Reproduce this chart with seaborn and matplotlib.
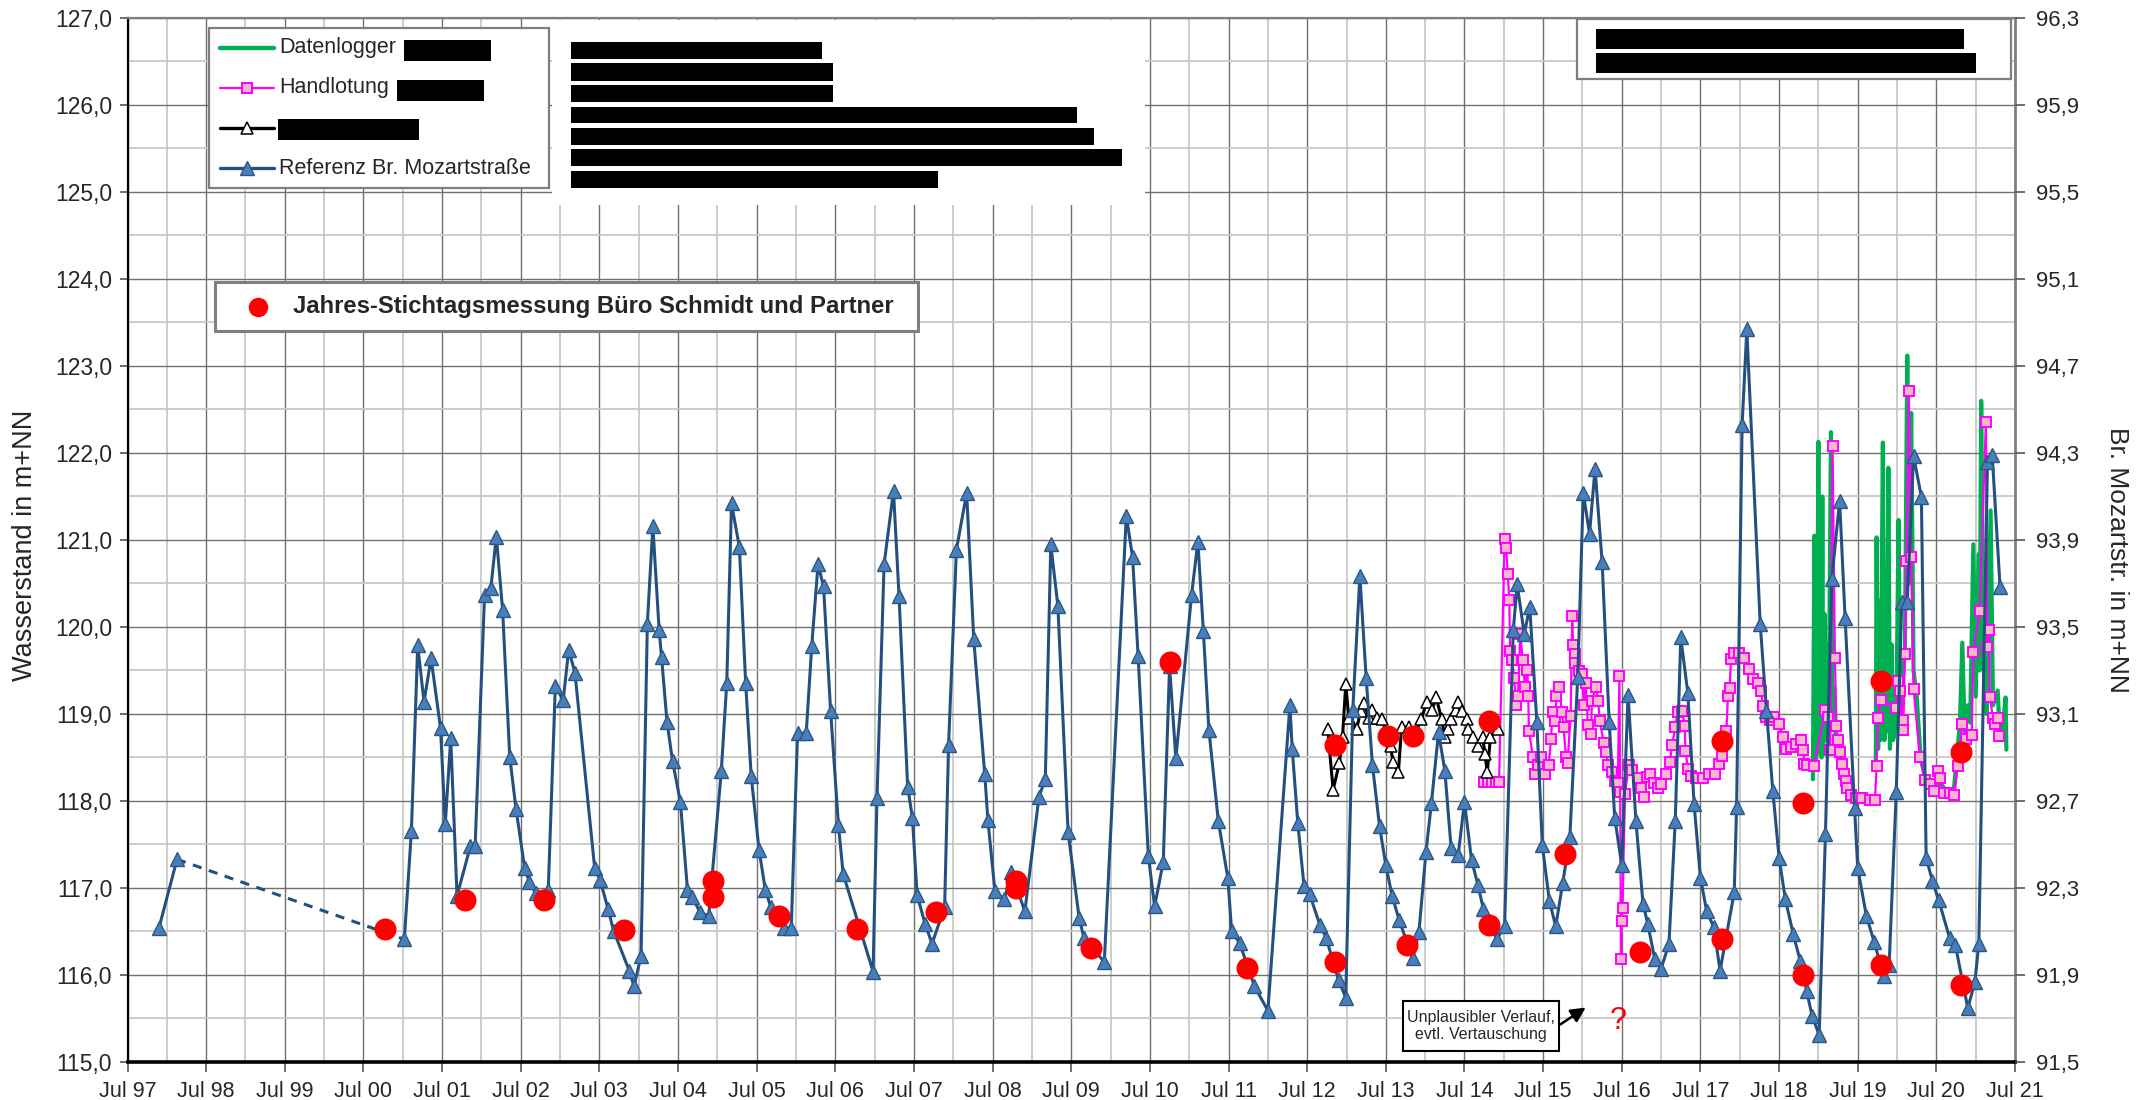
import numpy as np
import pandas as pd
import matplotlib
matplotlib.use("Agg")
import matplotlib.pyplot as plt
from matplotlib.patches import Rectangle
from matplotlib.lines import Line2D
from matplotlib.ticker import FixedLocator, FuncFormatter
import seaborn as sns

# ---------------- data (decimal years, m+NN on left scale) ----------------
ref_start_t = [1997.90, 1998.13]
ref_start_v = [116.54, 117.33]
ref_gap_t = [1998.13, 2001.02]
ref_gap_v = [117.33, 116.41]

ref_t = [2001.02, 2001.11, 2001.19, 2001.27, 2001.36, 2001.48, 2001.54, 2001.61, 2001.69, 2001.86,
         2001.92, 2002.04, 2002.12, 2002.19, 2002.27, 2002.36, 2002.44, 2002.55, 2002.61, 2002.69,
         2002.85, 2002.94, 2003.04, 2003.11, 2003.19, 2003.44, 2003.51, 2003.61, 2003.68, 2003.88,
         2003.94, 2004.03, 2004.11, 2004.18, 2004.26, 2004.29, 2004.36, 2004.43, 2004.53, 2004.62,
         2004.68, 2004.78, 2004.89, 2005.05, 2005.12, 2005.18, 2005.28, 2005.36, 2005.43, 2005.53,
         2005.61, 2005.68, 2005.85, 2005.94, 2006.02, 2006.13, 2006.20, 2006.28, 2006.35, 2006.44,
         2006.54, 2006.60, 2006.98, 2007.03, 2007.12, 2007.24, 2007.31, 2007.42, 2007.48, 2007.54,
         2007.64, 2007.73, 2007.89, 2007.94, 2008.04, 2008.17, 2008.26, 2008.40, 2008.44, 2008.53,
         2008.65, 2008.74, 2008.91, 2009.09, 2009.17, 2009.24, 2009.33, 2009.46, 2009.60, 2009.66,
         2009.92, 2010.20, 2010.28, 2010.35, 2010.48, 2010.56, 2010.67, 2010.75, 2010.83, 2011.03,
         2011.11, 2011.18, 2011.25, 2011.37, 2011.49, 2011.54, 2011.64, 2011.83, 2012.00, 2012.28,
         2012.31, 2012.38, 2012.46, 2012.53, 2012.66, 2012.74, 2012.90, 2012.99, 2013.08, 2013.17,
         2013.25, 2013.33, 2013.42, 2013.50, 2013.58, 2013.67, 2013.84, 2013.92, 2014.01, 2014.08,
         2014.17, 2014.25, 2014.33, 2014.42, 2014.50, 2014.59, 2014.67, 2014.74, 2014.91, 2015.01,
         2015.12, 2015.17, 2015.26, 2015.33, 2015.42, 2015.49, 2015.58, 2015.66, 2015.75, 2015.84,
         2015.94, 2016.01, 2016.09, 2016.16, 2016.25, 2016.34, 2016.41, 2016.50, 2016.58, 2016.68,
         2016.77, 2016.83, 2016.92, 2017.00, 2017.10, 2017.18, 2017.25, 2017.34, 2017.42, 2017.50,
         2017.58, 2017.67, 2017.75, 2017.93, 2017.96, 2018.03, 2018.09, 2018.26, 2018.34, 2018.42,
         2018.50, 2018.58, 2018.68, 2018.77, 2018.85, 2018.92, 2019.01, 2019.09, 2019.17, 2019.27,
         2019.34, 2019.46, 2019.50, 2019.61, 2019.71, 2019.83, 2019.90, 2019.99, 2020.06, 2020.13,
         2020.21, 2020.31, 2020.37, 2020.45, 2020.53, 2020.67, 2020.74, 2020.90, 2020.99, 2021.04,
         2021.15, 2021.21, 2021.31]
ref_v = [116.41, 117.66, 119.79, 119.14, 119.64, 118.84, 117.73, 118.72, 116.91, 117.48,
         117.48, 120.37, 120.45, 121.04, 120.19, 118.51, 117.91, 117.23, 117.07, 116.94,
         116.98, 119.32, 119.16, 119.74, 119.47, 117.23, 117.09, 116.76, 116.51, 116.05,
         115.87, 116.22, 120.04, 121.16, 119.96, 119.66, 118.91, 118.46, 117.99, 116.98,
         116.90, 116.72, 116.68, 118.34, 119.36, 121.42, 120.92, 119.36, 118.29, 117.44,
         116.98, 116.78, 116.54, 116.54, 118.78, 118.78, 119.78, 120.72, 120.47, 119.04,
         117.72, 117.16, 116.04, 118.04, 120.72, 121.56, 120.36, 118.16, 117.81, 116.92,
         116.59, 116.36, 116.78, 118.64, 120.89, 121.54, 119.86, 118.31, 117.78, 116.96,
         116.87, 117.18, 116.73, 118.05, 118.25, 120.95, 120.24, 117.64, 116.66, 116.43,
         116.15, 121.28, 120.80, 119.67, 117.37, 116.79, 117.30, 119.55, 118.49, 120.37,
         120.98, 119.95, 118.82, 117.77, 117.12, 116.50, 116.37, 115.87, 115.59, 119.10,
         118.60, 117.75, 117.02, 116.93, 116.58, 116.43, 115.94, 115.74, 119.05, 120.59,
         119.41, 118.41, 117.71, 117.26, 116.91, 116.63, 116.19, 116.49, 117.41, 117.98,
         118.79, 118.35, 117.46, 117.38, 117.99, 117.32, 117.04, 116.76, 116.41, 116.56,
         119.96, 120.49, 119.92, 120.23, 118.91, 117.49, 116.85, 116.56, 117.06, 117.59,
         119.42, 121.54, 121.07, 121.82, 120.75, 118.91, 117.81, 117.26, 119.22, 117.77,
         116.82, 116.59, 116.18, 116.07, 116.36, 117.77, 119.88, 119.24, 117.96, 117.12,
         116.73, 116.55, 116.05, 116.95, 117.93, 122.32, 123.42, 120.04, 119.04, 118.12,
         117.35, 116.87, 116.47, 116.16, 115.82, 115.53, 115.31, 117.62, 120.55, 121.45,
         120.10, 117.92, 117.23, 116.68, 116.38, 115.99, 116.12, 118.10, 120.29, 120.29,
         121.97, 121.49, 117.35, 117.08, 116.86, 116.42, 116.35, 115.62, 115.92, 116.36,
         121.90, 121.98, 120.46]

blk_t = [2012.76, 2012.83, 2012.91, 2012.95, 2012.99, 2013.03, 2013.13, 2013.18, 2013.22, 2013.29,
         2013.33, 2013.39, 2013.45, 2013.56, 2013.59, 2013.66, 2013.70, 2013.79, 2013.86, 2013.95,
         2014.02, 2014.09, 2014.14, 2014.21, 2014.25, 2014.29, 2014.33, 2014.39, 2014.42, 2014.47,
         2014.53, 2014.55, 2014.61, 2014.67, 2014.73, 2014.76, 2014.79, 2014.83, 2014.93]
blk_v = [118.83, 118.13, 118.44, 118.74, 119.34, 118.95, 118.83, 119.04, 119.13, 118.95,
         119.05, 118.95, 118.94, 118.63, 118.45, 118.33, 118.85, 118.85, 118.75, 118.94,
         119.14, 119.05, 119.19, 118.94, 118.74, 118.83, 118.94, 119.05, 119.14, 119.04,
         118.94, 118.83, 118.73, 118.63, 118.74, 118.54, 118.33, 118.73, 118.83]

hand_t = [2014.75, 2014.80, 2014.85, 2014.90, 2014.94, 2015.01, 2015.03, 2015.05, 2015.07, 2015.08,
          2015.11, 2015.13, 2015.16, 2015.18, 2015.21, 2015.24, 2015.27, 2015.30, 2015.31, 2015.32,
          2015.37, 2015.40, 2015.44, 2015.47, 2015.53, 2015.57, 2015.60, 2015.62, 2015.65, 2015.67,
          2015.70, 2015.74, 2015.76, 2015.79, 2015.81, 2015.85, 2015.87, 2015.88, 2015.90, 2015.91,
          2015.95, 2015.99, 2016.02, 2016.04, 2016.07, 2016.11, 2016.12, 2016.17, 2016.20, 2016.22,
          2016.27, 2016.30, 2016.33, 2016.37, 2016.41, 2016.45, 2016.47, 2016.48, 2016.49, 2016.50,
          2016.51, 2016.54, 2016.59, 2016.63, 2016.70, 2016.74, 2016.78, 2016.82, 2016.86, 2016.91,
          2016.96, 2017.00, 2017.06, 2017.11, 2017.14, 2017.18, 2017.21, 2017.27, 2017.30, 2017.31,
          2017.34, 2017.38, 2017.44, 2017.53, 2017.61, 2017.69, 2017.74, 2017.78, 2017.83, 2017.85,
          2017.87, 2017.89, 2017.93, 2017.99, 2018.06, 2018.12, 2018.17, 2018.23, 2018.27, 2018.30,
          2018.33, 2018.38, 2018.44, 2018.50, 2018.55, 2018.59, 2018.65, 2018.71, 2018.78, 2018.81,
          2018.82, 2018.86, 2018.94, 2019.09, 2019.12, 2019.15, 2019.18, 2019.21, 2019.23, 2019.25,
          2019.28, 2019.30, 2019.33, 2019.35, 2019.37, 2019.42, 2019.48, 2019.56, 2019.65, 2019.72,
          2019.74, 2019.76, 2019.79, 2019.99, 2020.01, 2020.04, 2020.07, 2020.08, 2020.10, 2020.12,
          2020.15, 2020.18, 2020.21, 2020.29, 2020.36, 2020.42, 2020.47, 2020.52, 2020.54, 2020.60,
          2020.67, 2020.73, 2020.77, 2020.83, 2020.88, 2020.95, 2020.97, 2021.05, 2021.13, 2021.15,
          2021.17, 2021.18, 2021.22, 2021.25, 2021.28, 2021.30]
hand_v = [118.22, 118.22, 118.22, 118.22, 118.22, 121.01, 120.91, 120.61, 120.31, 119.72,
          119.62, 119.41, 119.10, 119.21, 119.92, 119.62, 119.31, 119.51, 119.21, 118.81,
          118.51, 118.31, 118.41, 118.51, 118.31, 118.41, 118.71, 119.02, 118.92, 119.21,
          119.31, 119.02, 118.85, 118.51, 118.44, 118.98, 120.13, 119.79, 119.69, 119.59,
          119.49, 119.46, 119.10, 119.36, 118.87, 118.77, 119.15, 119.31, 119.15, 118.92,
          118.67, 118.56, 118.41, 118.33, 118.23, 118.21, 119.44, 118.10, 116.18, 116.62,
          116.77, 118.08, 118.41, 118.36, 118.27, 118.15, 118.05, 118.28, 118.31, 118.21,
          118.15, 118.20, 118.31, 118.45, 118.64, 118.85, 119.02, 119.04, 118.86, 118.58,
          118.37, 118.29, 118.26, 118.27, 118.31, 118.31, 118.42, 118.52, 118.80, 119.21,
          119.30, 119.63, 119.70, 119.70, 119.64, 119.52, 119.40, 119.36, 119.26, 119.09,
          118.97, 118.93, 118.96, 118.89, 118.74, 118.60, 118.62, 118.66, 118.70, 118.59,
          118.42, 118.41, 118.40, 119.05, 118.97, 118.59, 122.08, 119.64, 118.86, 118.70,
          118.56, 118.42, 118.31, 118.23, 118.15, 118.07, 118.04, 118.03, 118.01, 118.01,
          118.40, 118.95, 119.16, 119.07, 119.38, 119.27, 118.93, 118.82, 119.69, 120.76,
          122.71, 120.80, 119.29, 118.51, 118.24, 118.20, 118.12, 118.34, 118.26, 118.09,
          118.09, 118.07, 118.40, 118.89, 118.71, 118.76, 119.71, 120.18, 122.36, 119.77,
          119.97, 119.20, 118.95, 118.89, 118.95, 118.75]

log_t = [2018.93, 2018.95, 2018.96, 2018.98, 2019.00, 2019.01, 2019.02, 2019.04, 2019.05, 2019.06,
         2019.08, 2019.09, 2019.11, 2019.13, 2019.16, 2019.18, 2019.20, 2019.22, np.nan,
         2019.73, 2019.74, 2019.76, 2019.77, 2019.79, 2019.82, 2019.84, 2019.85, 2019.87, 2019.89,
         2019.91, 2019.93, 2019.95, 2019.99, 2020.02, 2020.04, 2020.06, 2020.10, 2020.13, 2020.15,
         2020.18, 2020.21, 2020.25, 2020.30, 2020.36, 2020.45, 2020.55, 2020.65, 2020.72, 2020.77,
         2020.80, 2020.83, 2020.86, 2020.90, 2020.93, 2020.97, 2021.00, 2021.04, 2021.05, 2021.07,
         2021.10, 2021.14, 2021.19, 2021.22, 2021.28, 2021.31, 2021.35, 2021.38, 2021.39]
log_v = [118.25, 121.05, 118.40, 118.60, 122.13, 118.55, 121.20, 118.50, 121.50, 118.60,
         120.15, 118.70, 119.80, 118.80, 122.24, 118.90, 119.30, 118.70, np.nan,
         118.40, 121.03, 118.60, 120.30, 118.70, 122.12, 118.70, 120.00, 118.80, 121.83,
         118.60, 119.80, 118.70, 118.90, 121.23, 119.00, 119.30, 119.70, 123.12, 120.50,
         122.46, 119.50, 119.20, 118.50, 118.25, 118.15, 118.20, 118.10, 118.10, 118.60,
         118.90, 119.82, 118.80, 119.10, 118.90, 120.95, 119.20, 120.84, 119.50, 122.60,
         119.60, 119.00, 121.34, 119.10, 119.27, 118.70, 118.90, 119.19, 118.59]

dot_t = [2000.78, 2001.79, 2002.80, 2003.81, 2004.94, 2004.94, 2005.78, 2006.77, 2007.78, 2008.80,
         2008.80, 2009.75, 2010.75, 2011.73, 2012.85, 2012.85, 2013.53, 2013.84, 2013.77, 2014.81,
         2014.81, 2015.78, 2016.73, 2017.77, 2017.77, 2018.81, 2018.81, 2019.80, 2019.80, 2020.81,
         2020.81]
dot_v = [116.53, 116.86, 116.86, 116.52, 117.08, 116.90, 116.68, 116.53, 116.72, 117.08,
         117.00, 116.31, 119.60, 116.08, 118.64, 116.15, 118.75, 118.75, 116.35, 118.92,
         116.57, 117.39, 116.27, 118.69, 116.41, 117.98, 116.00, 119.38, 116.12, 118.56,
         115.88]

x_tick_labels = ["Jul %02d" % (y % 100) for y in range(1997, 2022)]
left_ticks = list(range(115, 128))
right_ticks = [91.5, 91.9, 92.3, 92.7, 93.1, 93.5, 93.9, 94.3, 94.7, 95.1, 95.5, 95.9, 96.3]

# ---------------- style ----------------
sns.set_theme(style="white")
plt.rcParams['font.family'] = ['Liberation Sans', 'DejaVu Sans']

W, H = 2149, 1100
fig = plt.figure(figsize=(W / 100, H / 100), dpi=100)
fig.patch.set_facecolor("white")
ax = fig.add_axes([127.5 / W, 1 - 1062 / H, (2015 - 127.5) / W, (1062 - 18) / H])
ax.set_facecolor("white")

BLUE_LINE = "#24507f"
BLUE_FACE = "#4a7ebb"
BLUE_EDGE = "#2a5885"

df_ref = pd.DataFrame({"t": ref_t, "v": ref_v})
df_ref0 = pd.DataFrame({"t": ref_start_t, "v": ref_start_v})
df_gap = pd.DataFrame({"t": ref_gap_t, "v": ref_gap_v})
df_blk = pd.DataFrame({"t": blk_t, "v": blk_v})
df_hand = pd.DataFrame({"t": hand_t, "v": hand_v})
df_log = pd.DataFrame({"t": log_t, "v": log_v})
df_dot = pd.DataFrame({"t": dot_t, "v": dot_v})

# logger (green) - plotted directly to keep the gap
ax.plot(df_log["t"], df_log["v"], color="#00b050", lw=3.0, zorder=3)

sns.lineplot(data=df_hand, x="t", y="v", ax=ax, sort=False, estimator=None, color="#ff00ff",
             lw=1.6, marker="s", markersize=7, markerfacecolor="#f9b8c8",
             markeredgecolor="#ff00ff", markeredgewidth=1.4, zorder=4)
sns.lineplot(data=df_blk, x="t", y="v", ax=ax, sort=False, estimator=None, color="black",
             lw=2.2, marker="^", markersize=8, markerfacecolor="white",
             markeredgecolor="black", markeredgewidth=1.1, zorder=5)
sns.lineplot(data=df_gap, x="t", y="v", ax=ax, sort=False, estimator=None, color=BLUE_LINE,
             lw=2.2, linestyle=(0, (3, 2.5)), zorder=6)
for d in (df_ref0, df_ref):
    sns.lineplot(data=d, x="t", y="v", ax=ax, sort=False, estimator=None, color=BLUE_LINE,
                 lw=2.2, marker="^", markersize=9.5, markerfacecolor=BLUE_FACE,
                 markeredgecolor=BLUE_EDGE, markeredgewidth=1.0, zorder=6)
sns.scatterplot(data=df_dot, x="t", y="v", ax=ax, color="#ff0000", edgecolor="#ff0000",
                s=215, zorder=8, legend=False)

# ---------------- axes ----------------
ax.set_xlim(1997.5, 2021.5)
ax.set_ylim(115, 127)
ax.xaxis.set_major_locator(FixedLocator([y + 0.5 for y in range(1997, 2022)]))
ax.xaxis.set_minor_locator(FixedLocator([float(y) for y in range(1998, 2022)]))
ax.set_xticklabels(x_tick_labels)
ax.yaxis.set_major_locator(FixedLocator(left_ticks))
ax.yaxis.set_minor_locator(FixedLocator([v + 0.5 for v in range(115, 127)]))
ax.yaxis.set_major_formatter(FuncFormatter(lambda v, p: ("%.1f" % v).replace(".", ",")))
ax.grid(True, which="major", color="#707070", lw=1.0, zorder=0)
ax.grid(True, which="minor", color="#c8c8c8", lw=1.3, zorder=0)
ax.set_axisbelow(True)
ax.tick_params(axis="x", which="major", direction="out", length=7, width=1.2, color="#555555",
               labelsize=15.5, pad=7, bottom=True)
ax.tick_params(axis="y", which="major", direction="out", length=6, width=1.2, color="#555555",
               labelsize=16.5, pad=5, left=True)
ax.tick_params(which="minor", length=0)
ax.set_xlabel("")
ax.set_ylabel("")
ax.spines["left"].set_color("black"); ax.spines["left"].set_linewidth(1.6)
ax.spines["bottom"].set_color("black"); ax.spines["bottom"].set_linewidth(2.6)
ax.spines["top"].set_color("#808080"); ax.spines["top"].set_linewidth(1.6)
ax.spines["right"].set_color("#808080"); ax.spines["right"].set_linewidth(2.0)

ax2 = ax.twinx()
ax2.set_ylim(91.5, 96.3)
ax2.yaxis.set_major_locator(FixedLocator(right_ticks))
ax2.yaxis.set_major_formatter(FuncFormatter(lambda v, p: ("%.1f" % v).replace(".", ",")))
ax2.tick_params(axis="y", direction="out", length=7, width=1.2, color="#555555", labelsize=16,
                pad=8)
ax2.grid(False)
for s in ax2.spines.values():
    s.set_visible(False)

fig.text(25 / W, 1 - 545 / H, "Wasserstand in m+NN", rotation=90, ha="center", va="center",
         fontsize=19.5)
fig.text(2117 / W, 1 - 560 / H, "Br. Mozartstr. in m+NN", rotation=270, ha="center", va="center",
         fontsize=19)

# ---------------- overlays (pixel helpers) ----------------
def fx(x):
    return x / W

def fy(y):
    return 1 - y / H

def rect(x0, y0, x1, y1, fc="white", ec="none", lw=0, z=20):
    fig.add_artist(Rectangle((fx(x0), fy(y1)), (x1 - x0) / W, (y1 - y0) / H,
                             transform=fig.transFigure, facecolor=fc, edgecolor=ec, lw=lw, zorder=z))

# white text area with redacted lines
rect(552, 20, 1145, 205, fc="white", z=15)
bars_end = [822, 833, 833, 1077, 1094, 1122, 938]
bars_y = [(42, 59), (63, 81), (85, 102), (107, 123), (128, 145), (149, 166), (171, 188)]
for xe, (y0, y1) in zip(bars_end, bars_y):
    rect(571, y0, xe, y1, fc="black", z=21)

# legend 1
rect(209, 28, 549, 188, fc="white", ec="#7f7f7f", lw=1.6, z=20)
rows = [48, 88, 128, 168]
styles = [dict(color="#00b050", lw=3.2),
          dict(color="#ff00ff", lw=1.6, marker="s", markersize=7, markerfacecolor="#f9b8c8",
               markeredgecolor="#ff00ff", markeredgewidth=1.4),
          dict(color="black", lw=2.4, marker="^", markersize=8, markerfacecolor="white",
               markeredgecolor="black", markeredgewidth=1.1),
          dict(color=BLUE_LINE, lw=2.4, marker="^", markersize=9.5, markerfacecolor=BLUE_FACE,
               markeredgecolor=BLUE_EDGE, markeredgewidth=1.0)]
labels = ["Datenlogger", "Handlotung", "", "Referenz Br. Mozartstraße"]
for ry, st, lab in zip(rows, styles, labels):
    fig.add_artist(Line2D([fx(220), fx(274)], [fy(ry), fy(ry)], transform=fig.transFigure,
                          zorder=22, **{k: v for k, v in st.items() if not k.startswith("marker")}))
    if "marker" in st:
        fig.add_artist(Line2D([fx(247)], [fy(ry)], transform=fig.transFigure, zorder=23,
                              linestyle="none", **{k: v for k, v in st.items() if k.startswith("marker")}))
    if lab:
        fig.text(fx(279), fy(ry), lab, fontsize=15.5, ha="left", va="center", zorder=22)
rect(404, 40, 491, 61, fc="black", z=23)
rect(397, 80, 484, 101, fc="black", z=23)
rect(278, 119, 419, 140, fc="black", z=23)

# legend 2 (red dots)
rect(215, 282, 918, 331, fc="white", ec="#7f7f7f", lw=2.2, z=20)
fig.add_artist(Line2D([fx(258)], [fy(307)], transform=fig.transFigure, linestyle="none",
                      marker="o", markersize=13, color="#ff0000", zorder=22))
fig.text(fx(293), fy(307), "Jahres-Stichtagsmessung Büro Schmidt und Partner", fontsize=17.2,
         fontweight="bold", ha="left", va="center", zorder=22)

# top-right box
rect(1577, 19, 2011, 79, fc="white", ec="#7f7f7f", lw=1.6, z=20)
rect(1596, 29, 1964, 49, fc="black", z=21)
rect(1596, 53, 1976, 73, fc="black", z=21)

# annotation
rect(1403, 1001, 1559, 1051, fc="white", ec="black", lw=1.5, z=20)
fig.text(fx(1481), fy(1026), "Unplausibler Verlauf,\nevtl. Vertauschung", fontsize=11.5,
         ha="center", va="center", linespacing=1.1, zorder=22)
ax.annotate("", xy=(fx(1588), fy(1006)), xytext=(fx(1558), fy(1026)),
            xycoords="figure fraction", textcoords="figure fraction",
            arrowprops=dict(arrowstyle="-|>", color="black", lw=1.8, mutation_scale=22), zorder=22)
fig.text(fx(1618), fy(1021), "?", color="#ff0000", fontsize=22, ha="center", va="center", zorder=22)

fig.savefig("out.png", dpi=100, facecolor="white")
